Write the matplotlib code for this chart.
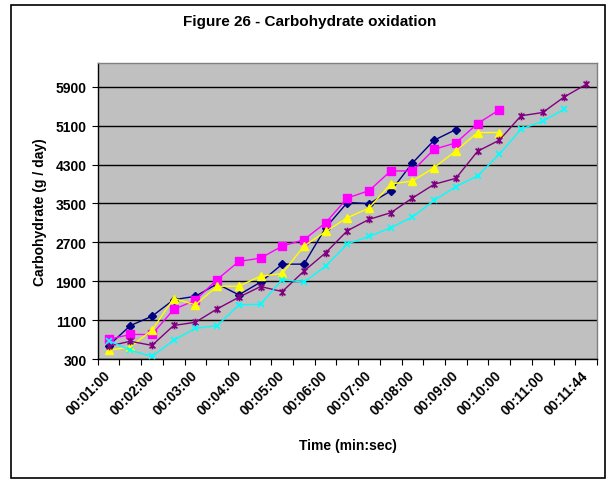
import numpy as np
import matplotlib.pyplot as plt
from matplotlib.path import Path
from matplotlib.patches import Rectangle

plt.rcParams['font.family'] = ['Liberation Sans', 'DejaVu Sans']
plt.rcParams['font.weight'] = 'bold'

# time points, every 30 s plus the final sample
times = ["00:01:00", "00:01:30", "00:02:00", "00:02:30", "00:03:00", "00:03:30",
         "00:04:00", "00:04:30", "00:05:00", "00:05:30", "00:06:00", "00:06:30",
         "00:07:00", "00:07:30", "00:08:00", "00:08:30", "00:09:00", "00:09:30",
         "00:10:00", "00:10:30", "00:11:00", "00:11:30", "00:11:44"]

nan = np.nan
subj_1 = [575, 987, 1180, 1520, 1590, 1846, 1620, 1881, 2252, 2252, 3001, 3520,
          3496, 3757, 4334, 4802, 5022, nan, nan, nan, nan, nan, nan]
subj_2 = [705, 805, 805, 1320, 1510, 1936, 2307, 2376, 2623, 2754, 3104, 3613,
          3764, 4170, 4170, 4616, 4747, 5145, 5427, nan, nan, nan, nan]
subj_3 = [480, 548, 895, 1545, 1415, 1798, 1798, 2005, 2060, 2623, 2925, 3207,
          3407, 3901, 3963, 4238, 4582, 4960, 4960, nan, nan, nan, nan]
subj_4 = [565, 665, 580, 990, 1056, 1331, 1571, 1791, 1688, 2108, 2486, 2940,
          3173, 3310, 3613, 3895, 4018, 4575, 4802, 5304, 5372, 5695, 5950]
subj_5 = [680, 480, 352, 685, 932, 987, 1413, 1427, 1936, 1881, 2211, 2668,
          2822, 3001, 3221, 3565, 3846, 4066, 4513, 5029, 5194, 5441, nan]

y_ticks = [300, 1100, 1900, 2700, 3500, 4300, 5100, 5900]

# asterisk marker: an X with a vertical bar through it
star = Path([(-1, -1), (1, 1), (-1, 1), (1, -1), (0, -1.3), (0, 1.3)],
            [Path.MOVETO, Path.LINETO, Path.MOVETO, Path.LINETO, Path.MOVETO, Path.LINETO])

fig = plt.figure(figsize=(6.15, 4.85), dpi=100)
ax = fig.add_axes([0.1589, 0.2577, 0.9707 - 0.1589, 0.869 - 0.2577])
ax.set_facecolor('#C0C0C0')

x = np.arange(len(times))
ax.plot(x, subj_1, color='#000080', lw=1.0, marker='D', ms=4.5, mec='#000080', mfc='#000080', zorder=3)
ax.plot(x, subj_2, color='#FF00FF', lw=1.0, marker='s', ms=5.5, mec='#FF00FF', mfc='#FF00FF', zorder=3)
ax.plot(x, subj_3, color='#FFFF00', lw=1.0, marker='^', ms=6, mec='#FFFF00', mfc='#FFFF00', zorder=3)
ax.plot(x, subj_4, color='#800080', lw=1.0, marker=star, ms=5.5, mec='#800080', mew=1.2, zorder=3)
ax.plot(x, subj_5, color='#00FFFF', lw=1.0, marker='x', ms=5, mec='#00FFFF', mew=1.2, zorder=3)

ax.set_xlim(-0.5, len(times) - 0.5)
ax.set_ylim(300, 6400)

# tick marks sit between categories, labels on every other category
ax.set_xticks(np.arange(-0.5, len(times)))
ax.set_xticklabels([])
ax.set_xticks(x[::2], minor=True)
ax.set_xticklabels(times[::2], minor=True, rotation=45, ha='right', va='center',
                   rotation_mode='anchor', fontsize=10, fontweight='bold')
ax.tick_params(axis='x', which='major', direction='out', length=4.5, width=0.8, color='black')
ax.tick_params(axis='x', which='minor', length=0, pad=10)

ax.set_yticks(y_ticks)
ax.set_yticklabels([str(v) for v in y_ticks], fontsize=10, fontweight='bold')
ax.tick_params(axis='y', direction='out', length=4.5, width=0.8, pad=3.5)

ax.grid(axis='y', color='black', lw=1.0)
ax.set_axisbelow(True)

for side in ['left', 'bottom']:
    ax.spines[side].set_color('black')
    ax.spines[side].set_linewidth(1.0)
for side in ['top', 'right']:
    ax.spines[side].set_color('#808080')
    ax.spines[side].set_linewidth(1.0)

fig.text(0.504, 0.955, "Figure 26 - Carbohydrate oxidation", ha='center', va='center',
         fontsize=11, fontweight='bold')
fig.text(0.565, 0.080, "Time (min:sec)", ha='center', va='center', fontsize=10, fontweight='bold')
fig.text(0.065, 0.563, "Carbohydrate (g / day)", ha='center', va='center', rotation=90,
         fontsize=10, fontweight='bold')

# chart-area frame
fig.patches.append(Rectangle((11 / 615, 6 / 485), 594 / 615, 473 / 485, transform=fig.transFigure,
                             fill=False, edgecolor='black', lw=1.2))

fig.savefig('out.png', dpi=100, facecolor='white')
